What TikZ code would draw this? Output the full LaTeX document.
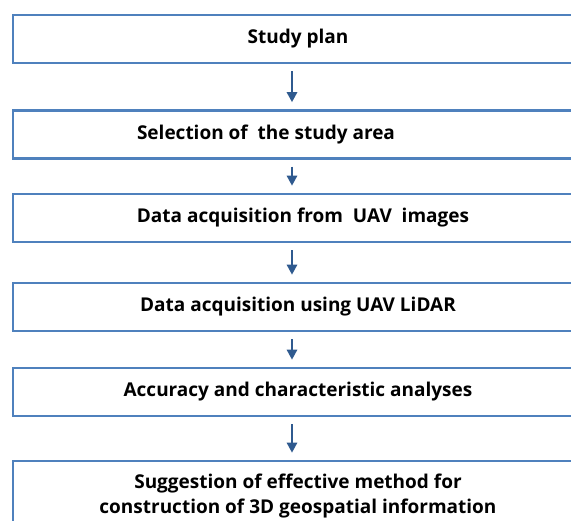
\documentclass[tikz,border=0pt]{standalone}
\usepackage{fontspec}
\setmainfont{Open Sans}
\usetikzlibrary{arrows.meta}
\definecolor{boxblue}{HTML}{4F81BD}
\definecolor{arrowblue}{HTML}{2F5A8F}
\tikzset{
  stepbox/.style={draw=boxblue, line width=2.5pt, fill=white,
    minimum width=570pt, minimum height=48pt, inner sep=0pt,
    align=center, font=\fontsize{19}{25}\selectfont\bfseries},
  flow/.style={draw=arrowblue, line width=2.7pt,
    -{Triangle[width=10pt,length=10pt]}, shorten <=7pt, shorten >=7pt}
}
\begin{document}
\begin{tikzpicture}[x=1pt,y=-1pt]
  \useasboundingbox (0,0) rectangle (571,521);
  \clip (0,0) rectangle (571,521);

  % Etapas del estudio (el borde derecho queda fuera)
  \node[stepbox] (plan) at (298,39) {Study plan};
  \node[stepbox] (area) at (298,134.5) {Selection of\ \ the study area\hspace*{64pt}};
  \node[stepbox] (uav) at (298,218) {Data acquisition from\ \ UAV\ \ images\hspace*{-10pt}};
  \node[stepbox] (lidar) at (298,307) {Data acquisition using UAV LiDAR};
  \node[stepbox] (anal) at (298,392) {Accuracy and characteristic analyses};
  \node[stepbox, minimum height=70pt] (sugg) at (298,496)
    {Suggestion of effective method for\\construction of 3D geospatial information};

  % Flechas entre etapas
  \foreach \a/\b in {plan/area, area/uav, uav/lidar, lidar/anal, anal/sugg}{
    \draw[flow] ([xshift=-6pt]\a.south) -- ([xshift=-6pt]\b.north);
  }

\end{tikzpicture}
\end{document}
